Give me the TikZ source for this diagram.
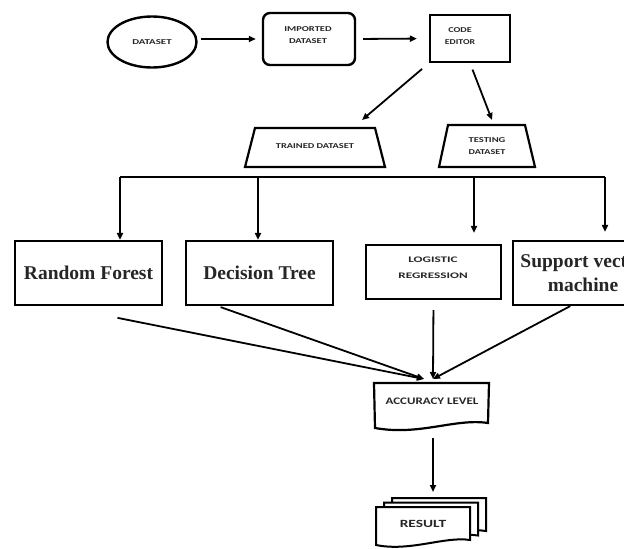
\documentclass[tikz,border=0pt]{standalone}
\usepackage{fontspec}
\setmainfont{Liberation Serif}
\newfontfamily\carl{Carlito}
\usetikzlibrary{arrows.meta,shapes.geometric,calc}
\newcommand{\stx}[2]{\scalebox{#1}[1]{#2}}
\begin{document}
\begin{tikzpicture}[x=1pt,y=-1pt,
  line width=2pt,
  arr/.style={-{Triangle[length=7pt,width=6pt]}, line width=1.8pt},
  sm/.style={font=\carl\bfseries\fontsize{7.5}{11.5}\selectfont, align=center, inner sep=0pt, text=black!85},
  big/.style={font=\bfseries\fontsize{19.5}{24}\selectfont, align=center, inner sep=0pt, text=black!85},
  box/.style={draw, line width=2.2pt, inner sep=0pt, rectangle},
  shp/.style={draw, line width=2.2pt}]
\useasboundingbox (0,0) rectangle (624,549);
\clip (0,0) rectangle (624,549);
\fill[white] (0,0) rectangle (624,549);

% top row
\node[draw, ellipse, line width=2.4pt, minimum width=89pt, minimum height=51pt, sm] (ds) at (152,42) {\stx{1.45}{DATASET}};
\node[draw, rounded corners=7pt, line width=2.4pt, minimum width=92pt, minimum height=52pt] (imp) at (309,39) {};
\node[sm] (impt) at (308,35) {\stx{1.4}{IMPORTED}\\\stx{1.4}{DATASET}};
\node[box, minimum width=80pt, minimum height=47pt] (ce) at (470,38.5) {};
\node[sm] (cet) at (460,36) {\stx{1.35}{CODE}\\\stx{1.3}{EDITOR}};

\draw[arr, shorten <=3pt, shorten >=6pt] (ds.east |- imp.west) -- (imp.west);
\draw[arr, shorten <=7pt, shorten >=12pt] (imp.east) -- (ce.west);

% datasets
\draw[shp] (245,167) -- (255,128) -- (375,128) -- (385,167) -- cycle;
\node[sm] (tr) at (315,146) {\stx{1.38}{TRAINED DATASET}};
\draw[shp] (439,167) -- (448,125) -- (525,125) -- (535,167) -- cycle;
\node[sm] (te) at (487,146) {\stx{1.4}{TESTING}\\\stx{1.35}{DATASET}};

\coordinate (trt) at (362,120);
\coordinate (tet) at (492,120);
\draw[arr, shorten <=9pt] (ce.south west) -- (trt);
\draw[arr, shorten <=7pt] (ce.south) -- (tet);

% classifiers
\node[box, minimum width=147pt, minimum height=64pt, big] (rf) at (88.5,273) {Random Forest};
\node[box, minimum width=147pt, minimum height=64pt, big] (dt) at (259.5,273) {Decision Tree};
\node[box, minimum width=135pt, minimum height=54pt] (lr) at (433.5,272) {};
\node[sm, font=\carl\bfseries\fontsize{8.5}{16}\selectfont] (lrt) at (433,268) {\stx{1.55}{LOGISTIC}\\\stx{1.55}{REGRESSION}};
\node[box, minimum width=140pt, minimum height=64pt, big] (svm) at (583,273) {Support vector\\machine};

% bus
\coordinate (b1) at (120,177);
\coordinate (b2) at (258,177);
\coordinate (b3) at (474,177);
\coordinate (b4) at (605,177);
\draw (b1) -- (b4);
\draw[arr] (b1) -- (b1 |- rf.north);
\draw[arr] (b2) -- (b2 |- dt.north);
\draw[arr, shorten >=11pt] (b3) -- (b3 |- lr.north);
\draw[arr, shorten >=8pt] (b4) -- (b4 |- svm.north);

% accuracy
\node[minimum width=113pt, minimum height=45pt, inner sep=0pt] (acc) at (431.5,406.5) {};
\draw[shp] (acc.north west) -- (acc.north east) -- (488,423) .. controls (455,418) and (420,436) .. (375,428) -- cycle;
\node[sm, font=\carl\bfseries\fontsize{10}{12}\selectfont] (acct) at (432,401) {\stx{1.3}{ACCURACY LEVEL}};

\coordinate (ai1) at (424,379);
\coordinate (ai2) at (433,379);
\draw[arr, shorten <=60pt] ($(rf.south west)!0.30!(rf.south east)$) -- (ai1);
\draw[arr, shorten <=3pt] ($(dt.south west)!0.22!(dt.south east)$) -- (ai1);
\draw[arr, shorten <=10pt] (lr.south) -- (ai2);
\draw[arr] ($(svm.south west)!0.41!(svm.south east)$) -- (ai2);

% result
\foreach \dx/\dy in {16/-9, 8/-4.5, 0/0} {
  \begin{scope}[shift={(\dx,\dy)}]
    \draw[shp, line width=2pt, fill=white] (376,507) -- (470,507) -- (470,540) .. controls (445,536) and (410,552) .. (376,545) -- cycle;
  \end{scope}
}
\node[minimum width=94pt, minimum height=38pt, inner sep=0pt] (res) at (423,526) {};
\node[sm, font=\carl\bfseries\fontsize{11}{13}\selectfont] (rest) at (423,524) {\stx{1.4}{RESULT}};

\draw[arr, shorten <=8pt, shorten >=14pt] (acc.south -| ai2) -- (ai2 |- res.north);
\end{tikzpicture}
\end{document}
